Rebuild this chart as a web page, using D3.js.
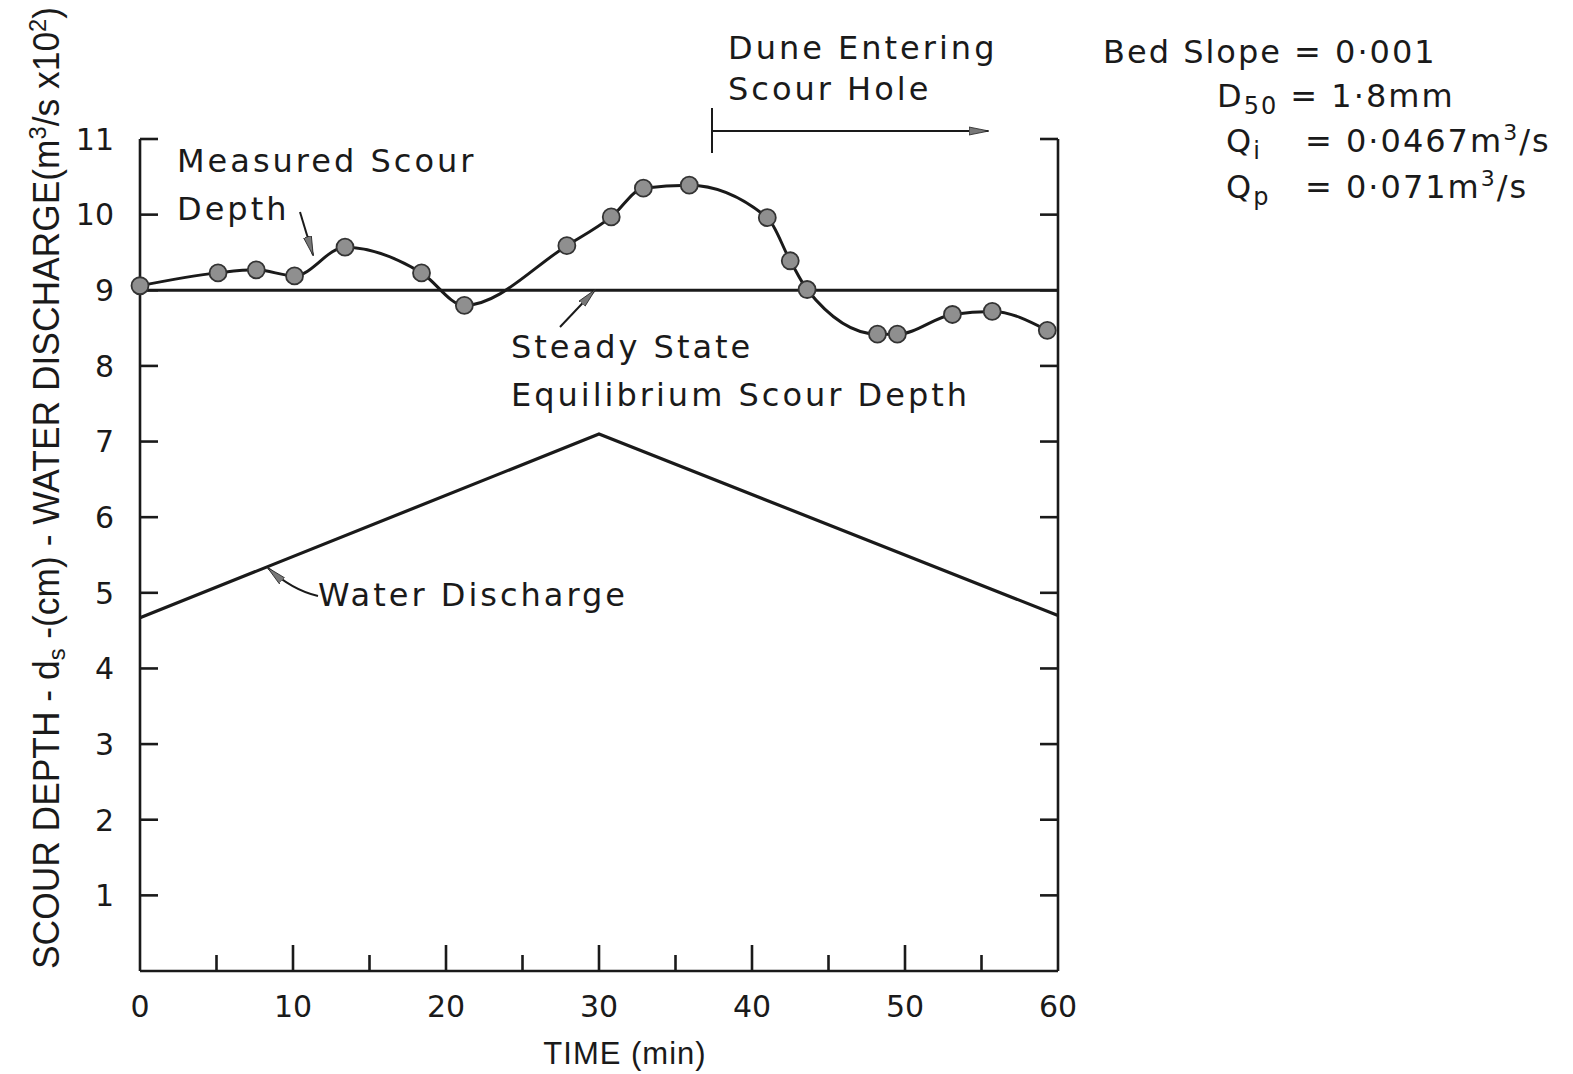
<html>
<head>
<script src="https://d3js.org/d3.v7.min.js"></script>
<style>
  body { margin: 0; background: #fff; }
  text { font-family: "DejaVu Sans", sans-serif; fill: #1a1a1a; }
  .narrow { font-family: "Liberation Sans Narrow", "Liberation Sans", sans-serif; }
</style>
</head>
<body>
<svg id="chart" width="1573" height="1074"></svg>
<script>
// measured scour depth (cm)
const timeMin = [0, 5.1, 7.6, 10.1, 13.4, 18.4, 21.2, 27.9, 30.8, 32.9, 35.9, 41.0, 42.5, 43.6, 48.2, 49.5, 53.1, 55.7, 59.3];
const scourDepth = [9.06, 9.23, 9.27, 9.19, 9.57, 9.23, 8.80, 9.59, 9.97, 10.35, 10.39, 9.96, 9.39, 9.01, 8.42, 8.42, 8.68, 8.72, 8.47];
// water discharge (m3/s x 10^2)
const dischargeTime = [0, 30, 60];
const discharge = [4.67, 7.1, 4.7];
const steadyDepth = 9.0;
const yTicks = [1, 2, 3, 4, 5, 6, 7, 8, 9, 10, 11];
const xTicks = [0, 10, 20, 30, 40, 50, 60];
const xMinorTicks = [5, 15, 25, 35, 45, 55];

const svg = d3.select("#chart");
const x = d3.scaleLinear().domain([0, 60]).range([140, 1058]);
const y = d3.scaleLinear().domain([0, 11]).range([971, 139]);

const defs = svg.append("defs");
defs.append("marker").attr("id", "head")
  .attr("viewBox", "0 0 20 10").attr("refX", 19).attr("refY", 5)
  .attr("markerWidth", 10).attr("markerHeight", 5).attr("orient", "auto")
  .attr("markerUnits", "strokeWidth")
  .append("path").attr("d", "M0,1 L20,5 L0,9 Z")
  .attr("fill", "#777").attr("stroke", "#222").attr("stroke-width", 0.8);

const ink = "#1a1a1a";

// axes frame: left, bottom, right
const frame = svg.append("g").attr("stroke", ink).attr("stroke-width", 2.6).attr("fill", "none");
frame.append("line").attr("x1", x(0)).attr("x2", x(0)).attr("y1", y(11)).attr("y2", y(0));
frame.append("line").attr("x1", x(0)).attr("x2", x(60)).attr("y1", y(0)).attr("y2", y(0));
frame.append("line").attr("x1", x(60)).attr("x2", x(60)).attr("y1", y(11)).attr("y2", y(0));

// inward ticks on left and right
frame.selectAll("line.lt").data(yTicks).join("line").attr("class", "lt")
  .attr("x1", x(0)).attr("x2", x(0) + 18).attr("y1", d => y(d)).attr("y2", d => y(d));
frame.selectAll("line.rt").data(yTicks).join("line").attr("class", "rt")
  .attr("x1", x(60)).attr("x2", x(60) - 18).attr("y1", d => y(d)).attr("y2", d => y(d));
frame.selectAll("line.bt").data(xTicks.slice(1, -1)).join("line").attr("class", "bt")
  .attr("x1", d => x(d)).attr("x2", d => x(d)).attr("y1", y(0)).attr("y2", y(0) - 26);
frame.selectAll("line.bm").data(xMinorTicks).join("line").attr("class", "bm")
  .attr("x1", d => x(d)).attr("x2", d => x(d)).attr("y1", y(0)).attr("y2", y(0) - 16);

// tick labels
svg.selectAll("text.yl").data(yTicks).join("text").attr("class", "yl")
  .attr("x", 114).attr("y", d => y(d)).attr("dy", "0.36em")
  .attr("text-anchor", "end").attr("font-size", 30).text(d => d);
svg.selectAll("text.xl").data(xTicks).join("text").attr("class", "xl")
  .attr("x", d => x(d)).attr("y", 1017)
  .attr("text-anchor", "middle").attr("font-size", 30).text(d => d);

svg.append("text").attr("class", "narrow").attr("x", 625).attr("y", 1064)
  .attr("text-anchor", "middle").attr("font-size", 31).attr("letter-spacing", 1).text("TIME (min)");

// y axis title
const yt = svg.append("text").attr("class", "narrow")
  .attr("transform", "translate(59,969) rotate(-90)")
  .attr("font-size", 36).attr("textLength", 962).attr("lengthAdjust", "spacingAndGlyphs");
yt.append("tspan").text("SCOUR DEPTH - d");
yt.append("tspan").attr("baseline-shift", "-25%").attr("font-size", 24).text("s");
yt.append("tspan").text(" -(cm) - WATER  DISCHARGE(m");
yt.append("tspan").attr("baseline-shift", "super").attr("font-size", 24).text("3");
yt.append("tspan").text("/s x10");
yt.append("tspan").attr("baseline-shift", "super").attr("font-size", 24).text("2");
yt.append("tspan").text(")");

// steady state line
svg.append("line").attr("x1", x(0)).attr("x2", x(60))
  .attr("y1", y(steadyDepth)).attr("y2", y(steadyDepth))
  .attr("stroke", ink).attr("stroke-width", 2.8);

// water discharge line
const dLine = d3.line().x((d, i) => x(dischargeTime[i])).y(d => y(d));
svg.append("path").datum(discharge).attr("d", dLine)
  .attr("fill", "none").attr("stroke", ink).attr("stroke-width", 3.2);

// measured scour depth curve
const sLine = d3.line().curve(d3.curveMonotoneX)
  .x((d, i) => x(timeMin[i])).y(d => y(d));
svg.append("path").datum(scourDepth).attr("d", sLine)
  .attr("fill", "none").attr("stroke", ink).attr("stroke-width", 3);
svg.selectAll("circle.pt").data(scourDepth).join("circle").attr("class", "pt")
  .attr("cx", (d, i) => x(timeMin[i])).attr("cy", d => y(d)).attr("r", 8.5)
  .attr("fill", "#8f8f8f").attr("stroke", "#333").attr("stroke-width", 1.8);

// annotations
const fs = 32;
svg.append("text").attr("x", 177).attr("y", 172).attr("font-size", fs).attr("letter-spacing", 3).text("Measured Scour");
svg.append("text").attr("x", 177).attr("y", 220).attr("font-size", fs).attr("letter-spacing", 3).text("Depth");
svg.append("line").attr("x1", 300).attr("y1", 212).attr("x2", 313).attr("y2", 255)
  .attr("stroke", ink).attr("stroke-width", 2).attr("marker-end", "url(#head)");

svg.append("text").attr("x", 511).attr("y", 358).attr("font-size", fs).attr("letter-spacing", 3).text("Steady State");
svg.append("text").attr("x", 511).attr("y", 406).attr("font-size", fs).attr("letter-spacing", 3).text("Equilibrium Scour Depth");
svg.append("line").attr("x1", 560).attr("y1", 327).attr("x2", 595).attr("y2", 290)
  .attr("stroke", ink).attr("stroke-width", 2).attr("marker-end", "url(#head)");

svg.append("text").attr("x", 318).attr("y", 606).attr("font-size", fs).attr("letter-spacing", 3).text("Water Discharge");
svg.append("path").attr("d", "M318,596 Q292,590 268,568")
  .attr("fill", "none").attr("stroke", ink).attr("stroke-width", 2).attr("marker-end", "url(#head)");

svg.append("text").attr("x", 728).attr("y", 59).attr("font-size", fs).attr("letter-spacing", 3).text("Dune Entering");
svg.append("text").attr("x", 728).attr("y", 100).attr("font-size", fs).attr("letter-spacing", 3).text("Scour Hole");
svg.append("line").attr("x1", 712).attr("x2", 712).attr("y1", 108).attr("y2", 153)
  .attr("stroke", ink).attr("stroke-width", 2);
svg.append("line").attr("x1", 712).attr("x2", 988).attr("y1", 131).attr("y2", 131)
  .attr("stroke", ink).attr("stroke-width", 2).attr("marker-end", "url(#head)");

// parameters block
const pg = svg.append("g").attr("font-size", fs);
pg.append("text").attr("x", 1103).attr("y", 63).attr("letter-spacing", 2).text("Bed Slope  = 0·001");
const d50 = pg.append("text").attr("x", 1217).attr("y", 107).attr("letter-spacing", 2);
d50.append("tspan").text("D");
d50.append("tspan").attr("baseline-shift", "-30%").attr("font-size", 24).text("50");
d50.append("tspan").text(" = 1·8mm");
const qi = pg.append("text").attr("x", 1226).attr("y", 152).attr("letter-spacing", 2);
qi.append("tspan").text("Q");
qi.append("tspan").attr("baseline-shift", "-30%").attr("font-size", 24).text("i");
qi.append("tspan").attr("x", 1305).text("= 0·0467m");
qi.append("tspan").attr("baseline-shift", "super").attr("font-size", 22).text("3");
qi.append("tspan").text("/s");
const qp = pg.append("text").attr("x", 1226).attr("y", 198).attr("letter-spacing", 2);
qp.append("tspan").text("Q");
qp.append("tspan").attr("baseline-shift", "-30%").attr("font-size", 24).text("p");
qp.append("tspan").attr("x", 1305).text("= 0·071m");
qp.append("tspan").attr("baseline-shift", "super").attr("font-size", 22).text("3");
qp.append("tspan").text("/s");
</script>
</body>
</html>
